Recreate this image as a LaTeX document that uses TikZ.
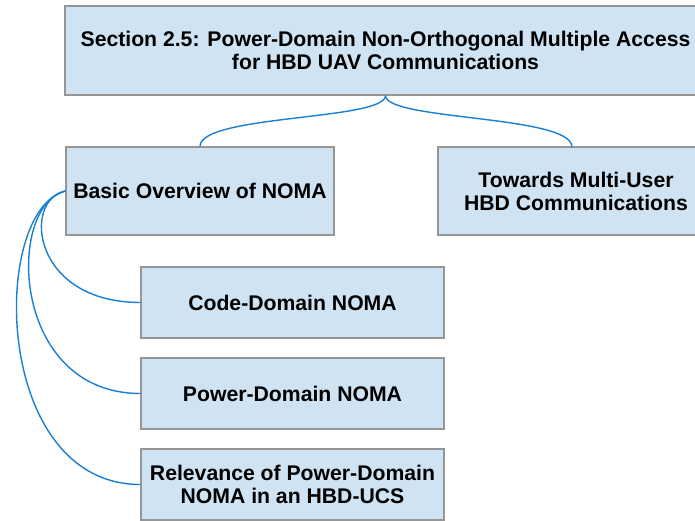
\documentclass[tikz,border=0pt]{standalone}
\usepackage{fontspec}
\setmainfont{Liberation Sans}
\definecolor{boxfill}{RGB}{207,227,243}
\definecolor{boxline}{RGB}{150,150,150}
\definecolor{linkblue}{RGB}{24,128,212}
\begin{document}
\begin{tikzpicture}[x=1pt,y=-1pt,
  box/.style={draw=boxline, fill=boxfill, line width=1.1pt, inner sep=0pt,
    align=center, font=\fontsize{21.2}{23}\selectfont\bfseries},
  conn/.style={draw=linkblue, line width=1.4pt}]
\useasboundingbox (0,0) rectangle (695,521);
% tree of topics
\node[box, minimum width=641, minimum height=89] (top) at (385.5,50.5)
  {Section 2.5: Power-Domain Non-Orthogonal Multiple Access\\for HBD UAV Communications};
\node[box, minimum width=268, minimum height=88] (basic) at (200,191)
  {Basic Overview of NOMA};
\node[box, minimum width=276, minimum height=88] (multi) at (576,191)
  {Towards Multi-User\\HBD Communications};
\node[box, minimum width=303, minimum height=71] (code) at (292.5,302.5)
  {Code-Domain NOMA};
\node[box, minimum width=303, minimum height=71] (power) at (292.5,393.5)
  {Power-Domain NOMA};
\node[box, minimum width=303, minimum height=71] (relev) at (292.5,484.5)
  {Relevance of Power-Domain\\NOMA in an HBD-UCS};
% brace from the section title to its two parts
\draw[conn] (top.south) .. controls +(0,25) and +(0,-32) .. (basic.north);
\draw[conn] (top.south) .. controls +(0,25) and +(0,-32) .. (572,147);
% subtopics of the overview
\draw[conn] (basic.west) .. controls (22,200) and (32,302.5) .. (code.west);
\draw[conn] (basic.west) .. controls (6,205) and (10,393.5) .. (power.west);
\draw[conn] (basic.west) .. controls (-10,210) and (-8,484.5) .. (relev.west);
\end{tikzpicture}
\end{document}
